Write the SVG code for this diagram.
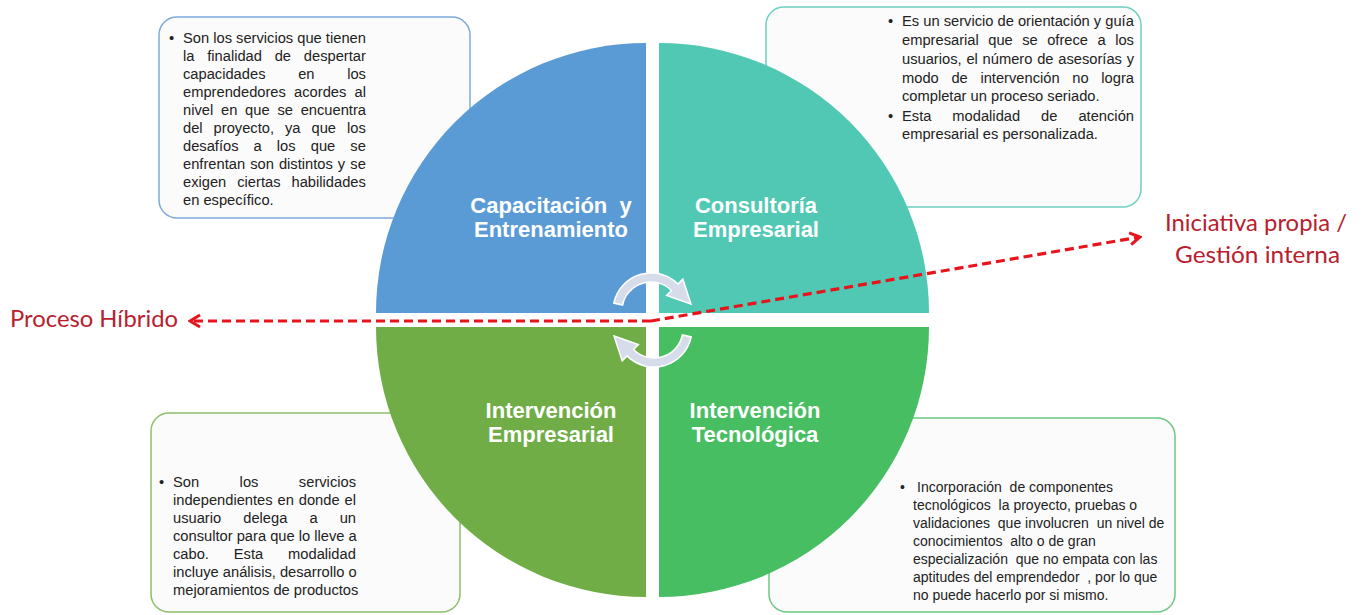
<svg xmlns="http://www.w3.org/2000/svg" width="1366" height="615" viewBox="0 0 1366 615">
<defs>
<style>
.box{fill:#FBFBFB;stroke-width:1.5}
.t{font-family:"Liberation Sans",Arial,sans-serif;font-size:14.7px;fill:#222}
.t4{font-family:"Liberation Sans",Arial,sans-serif;font-size:14px;fill:#222}
.ttl{font-family:"Liberation Sans",Arial,sans-serif;font-size:22px;font-weight:bold;fill:#fff;text-anchor:middle}
.lbl{font-family:Lato,"Noto Sans",sans-serif;font-size:23.5px;fill:#B8202E}
.dash{stroke:#E8141B;stroke-width:3.2;stroke-dasharray:9 5;fill:none}
.cyc{fill:#D6DCEA;stroke:#fff;stroke-width:1.5}
</style>
<marker id="ah" markerUnits="userSpaceOnUse" viewBox="0 0 14 16" markerWidth="14" markerHeight="16" refX="12" refY="8" orient="auto">
<path d="M2,2 L12,8 L2,14" fill="none" stroke="#E8141B" stroke-width="3" stroke-dasharray="none"/>
</marker>
</defs>
<rect width="1366" height="615" fill="#fff"/>

<g id="box-capacitacion">
<rect class="box" x="159" y="17" width="311" height="201" rx="18" stroke="#7EAAD9"/>
<text class="t" x="169" y="43">•</text>
<text class="t" x="183" y="43">Son los servicios que tienen</text>
<text class="t" x="183" y="61" style="word-spacing:8.7px">la finalidad de despertar</text>
<text class="t" x="183" y="79" style="word-spacing:28.6px">capacidades en los</text>
<text class="t" x="183" y="97" style="word-spacing:4.1px">emprendedores acordes al</text>
<text class="t" x="183" y="115" style="word-spacing:3.7px">nivel en que se encuentra</text>
<text class="t" x="183" y="133" style="word-spacing:6.9px">del proyecto, ya que los</text>
<text class="t" x="183" y="151" style="word-spacing:11px">desafíos a los que se</text>
<text class="t" x="183" y="169" style="word-spacing:1px">enfrentan son distintos y se</text>
<text class="t" x="183" y="187" style="word-spacing:6.9px">exigen ciertas habilidades</text>
<text class="t" x="183" y="205">en específico.</text>
</g>

<g id="box-consultoria">
<rect class="box" x="766" y="7" width="375" height="200" rx="18" stroke="#6ED0BF"/>
<text class="t" x="888" y="26">•</text>
<text class="t" x="902" y="26">Es un servicio de orientación y guía</text>
<text class="t" x="902" y="45" style="word-spacing:5.4px">empresarial que se ofrece a los</text>
<text class="t" x="902" y="64" style="word-spacing:0.7px">usuarios, el número de asesorías y</text>
<text class="t" x="902" y="83" style="word-spacing:8.6px">modo de intervención no logra</text>
<text class="t" x="902" y="101">completar un proceso seriado.</text>
<text class="t" x="888" y="121">•</text>
<text class="t" x="902" y="121" style="word-spacing:16.9px">Esta modalidad de atención</text>
<text class="t" x="902" y="139">empresarial es personalizada.</text>
</g>

<g id="box-intervencion-empresarial">
<rect class="box" x="151" y="413" width="309" height="199" rx="18" stroke="#8DBF6B"/>
<text class="t" x="159" y="487">•</text>
<text class="t" x="173" y="487" style="word-spacing:36.4px">Son los servicios</text>
<text class="t" x="173" y="505" style="word-spacing:0.8px">independientes en donde el</text>
<text class="t" x="173" y="523" style="word-spacing:18px">usuario delega a un</text>
<text class="t" x="173" y="541">consultor para que lo lleve a</text>
<text class="t" x="173" y="559" style="word-spacing:20.8px">cabo. Esta modalidad</text>
<text class="t" x="173" y="577">incluye análisis, desarrollo o</text>
<text class="t" x="173" y="595">mejoramientos de productos</text>
</g>

<g id="box-intervencion-tecnologica">
<rect class="box" x="769" y="418" width="406" height="194" rx="18" stroke="#6CC884"/>
<text class="t4" x="900" y="492">•</text>
<text class="t4" x="917" y="492" xml:space="preserve">Incorporación  de componentes</text>
<text class="t4" x="913" y="510" xml:space="preserve">tecnológicos  la proyecto, pruebas o</text>
<text class="t4" x="913" y="528" xml:space="preserve">validaciones  que involucren  un nivel de</text>
<text class="t4" x="913" y="546" xml:space="preserve">conocimientos  alto o de gran</text>
<text class="t4" x="913" y="564" xml:space="preserve">especialización  que no empata con las</text>
<text class="t4" x="913" y="582" xml:space="preserve">aptitudes del emprendedor  , por lo que</text>
<text class="t4" x="913" y="600">no puede hacerlo por si mismo.</text>
</g>

<g id="quadrant-capacitacion">
<path d="M646,313 L376,313 A270,270 0 0 1 646,43 Z" fill="#5B9BD5"/>
<text class="ttl" x="551" y="213" style="word-spacing:6px">Capacitación y</text>
<text class="ttl" x="551" y="237">Entrenamiento</text>
</g>
<g id="quadrant-consultoria">
<path d="M659,313 L659,43 A270,270 0 0 1 929,313 Z" fill="#50C8B4"/>
<text class="ttl" x="756" y="213">Consultoría</text>
<text class="ttl" x="756" y="237">Empresarial</text>
</g>
<g id="quadrant-intervencion-empresarial">
<path d="M646,327 L646,597 A270,270 0 0 1 376,327 Z" fill="#70AD47"/>
<text class="ttl" x="551" y="418">Intervención</text>
<text class="ttl" x="551" y="442">Empresarial</text>
</g>
<g id="quadrant-intervencion-tecnologica">
<path d="M659,327 L929,327 A270,270 0 0 1 659,597 Z" fill="#48BE62"/>
<text class="ttl" x="755" y="418">Intervención</text>
<text class="ttl" x="755" y="442">Tecnológica</text>
</g>

<g id="cycle-arrows">
<path class="cyc" d="M613.8,303.1 A38,38 0 0 1 677.9,284.1 L682.8,279.2 L691,304 L666.6,295.4 L671.5,290.5 A29,29 0 0 0 622.6,305 Z"/>
<path class="cyc" d="M613.8,303.1 A38,38 0 0 1 677.9,284.1 L682.8,279.2 L691,304 L666.6,295.4 L671.5,290.5 A29,29 0 0 0 622.6,305 Z" transform="rotate(180 652.5 320)"/>
</g>

<g id="connectors">
<line class="dash" x1="651" y1="321" x2="190" y2="321" marker-end="url(#ah)"/>
<line class="dash" x1="651" y1="321" x2="1140" y2="237" marker-end="url(#ah)"/>
</g>

<g id="label-proceso-hibrido">
<text class="lbl" x="10" y="327" textLength="168" lengthAdjust="spacingAndGlyphs">Proceso Híbrido</text>
</g>
<g id="label-iniciativa">
<text class="lbl" x="1165" y="231" textLength="182" lengthAdjust="spacingAndGlyphs">Iniciativa propia /</text>
<text class="lbl" x="1175" y="263" textLength="165" lengthAdjust="spacingAndGlyphs">Gestión interna</text>
</g>
</svg>
